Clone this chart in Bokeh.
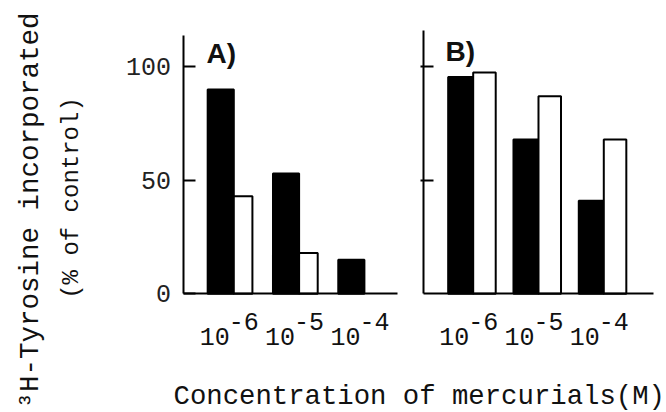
from bokeh.plotting import figure
from bokeh.models import Label, FixedTicker, Range1d, LinearAxis
from bokeh.embed import file_html
from bokeh.resources import INLINE

# ---- data ----
exponents = ["-6", "-5", "-4"]          # concentrations 10^-6, 10^-5, 10^-4 M
tick_base = "10"
y_ticks = [0, 50, 100]
a_black = [90, 53, 15]
a_white = [43, 18, float("nan")]        # no open bar at 10^-4 in panel A
b_black = [95.5, 68, 41]
b_white = [97.5, 87, 68]
panel_names = ["A)", "B)"]
y_title = ["\u00b3H-Tyrosine incorporated", "(% of control)"]
x_title = "Concentration of mercurials(M)"

# ---- layout constants (pixel geometry of the page) ----
W, H = 666, 412
X0, XS = 233.3, 65.3      # px of first group's centre line, px per group step
Y0, YS = 293.3, 2.27      # px of the 0 % baseline, px per percent
B_SHIFT = 3.666           # panel B sits this many group steps to the right
MONO = "Liberation Mono"
SANS = "Liberation Sans"
INK = "#111111"


def dx(px):
    return (px - X0) / XS


def dy(py):
    return (Y0 - py) / YS


groups_a = list(range(len(exponents)))
groups_b = [g + B_SHIFT for g in groups_a]

p = figure(width=W, height=H, x_range=Range1d(dx(0), dx(W)),
           y_range=Range1d(dy(H), dy(0)), x_axis_type=None, y_axis_type=None,
           output_backend="svg", toolbar_location=None, min_border=0)
p.outline_line_color = None
p.background_fill_color = "white"
p.border_fill_color = "white"

# ---- axes ----
ya = LinearAxis(fixed_location=dx(182.5), bounds=(0, dy(35)),
                ticker=FixedTicker(ticks=y_ticks))
ya.axis_line_width = 2
ya.major_tick_line_width = 2
ya.major_tick_in = 12
ya.major_tick_out = 0
ya.minor_tick_line_color = None
ya.major_label_text_font = MONO
ya.major_label_text_font_size = "25px"
ya.major_label_text_color = "#222222"
ya.major_label_standoff = 12
p.add_layout(ya, "left")

yb = LinearAxis(fixed_location=dx(423.3), bounds=(0, dy(30)),
                ticker=FixedTicker(ticks=y_ticks[1:]))
yb.axis_line_width = 2
yb.major_tick_line_width = 2
yb.major_tick_in = 10
yb.major_tick_out = 3
yb.minor_tick_line_color = None
yb.major_label_overrides = {t: "" for t in y_ticks[1:]}
p.add_layout(yb, "left")

for lo, hi in [(182.5, 397), (423.3, 653.3)]:
    xa = LinearAxis(fixed_location=0, bounds=(dx(lo), dx(hi)),
                    ticker=FixedTicker(ticks=[]))
    xa.axis_line_width = 2
    xa.minor_tick_line_color = None
    p.add_layout(xa, "below")


# ---- bars ----
def add_bars(groups, black, white, wb, ww):
    p.vbar(x=[g - wb / 2 for g in groups], top=black, bottom=0, width=wb,
           fill_color="black", line_color="black", line_width=2)
    p.vbar(x=[g + ww / 2 for g in groups], top=white, bottom=0, width=ww,
           fill_color="white", line_color="black", line_width=2)


add_bars(groups_a, a_black, a_white, 0.40, 0.285)
add_bars(groups_b, b_black, b_white, 0.383, 0.345)

# ---- x tick labels 10^-n ----
for groups in (groups_a, groups_b):
    for g, e in zip(groups, exponents):
        p.add_layout(Label(x=g, y=dy(327), x_offset=-4, text=tick_base,
                           text_align="right", text_baseline="top",
                           text_font=MONO, text_font_size="25px", text_color=INK))
        p.add_layout(Label(x=g, y=dy(312), x_offset=-5, text=e,
                           text_align="left", text_baseline="top",
                           text_font=MONO, text_font_size="25px", text_color=INK))

# ---- panel letters ----
p.add_layout(Label(x=dx(206), y=dy(37), text=panel_names[0], text_font=SANS,
                   text_font_style="bold", text_font_size="28px", text_color=INK,
                   text_baseline="top"))
p.add_layout(Label(x=dx(445), y=dy(35), text=panel_names[1], text_font=SANS,
                   text_font_style="bold", text_font_size="28px", text_color=INK,
                   text_baseline="top"))

# ---- axis titles ----
p.add_layout(Label(x=dx(30), y=dy(210), angle=90, angle_units="deg", text=y_title[0],
                   text_align="center", text_baseline="middle",
                   text_font=MONO, text_font_size="27.5px", text_color=INK))
p.add_layout(Label(x=dx(70.5), y=dy(197.5), angle=90, angle_units="deg", text=y_title[1],
                   text_align="center", text_baseline="middle",
                   text_font=MONO, text_font_size="24px", text_color=INK))
p.add_layout(Label(x=dx(173), y=dy(380), text=x_title, text_align="left",
                   text_baseline="top", text_font=MONO,
                   text_font_size="27.3px", text_color=INK))

open("out.html", "w").write(file_html(p, INLINE))
